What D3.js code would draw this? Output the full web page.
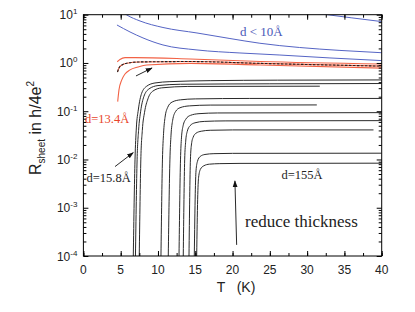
<!DOCTYPE html>
<html><head><meta charset="utf-8">
<script src="https://cdn.jsdelivr.net/npm/d3@7"></script>
<style>body{margin:0;background:#fff}svg{display:block}</style>
</head><body>
<svg id="c" width="415" height="312"></svg>
<script>
// ---- data (T in K, R_sheet in h/4e^2) ----
const xTickValues = [0,5,10,15,20,25,30,35,40];
const yTickExponents = [1,0,-1,-2,-3,-4];

const blue0 = [[29,11.6],[32.7,10],[36,8.6],[40,7.2]];
const blue1 = [[5.5,10.6],[5.82,9.86],[7.59,7.41],[10.67,5.43],[15.23,4.18],[19.65,3.21],[23.67,2.56],[29,2.09],[34.4,1.82],[40,1.63]];
const blue2 = [[4.5,6.12],[6.25,4.39],[7.99,3.30],[10.67,2.36],[15.23,1.86],[20.99,1.61],[26.35,1.46],[33.06,1.27],[40,1.12]];

const red1 = [[4.54,1.06],[4.9,1.18],[5.58,1.29],[6.92,1.29],[14.3,1.21],[23.7,1.07],[40,0.95]];
const red2 = [[4.57,0.65],[4.77,0.787],[5.17,0.91],[5.84,0.99],[7.59,1.05],[14.3,1.07],[23.7,0.98],[40,0.86]];
const red3 = [[4.6,0.158],[4.77,0.276],[5.13,0.44],[5.58,0.59],[6.25,0.72],[7.32,0.826],[8.49,0.91],[14.3,0.98],[23.7,0.91],[40,0.78]];

const black1 = [[6.69,1e-4],[6.92,0.0098],[7.1,0.045],[7.36,0.106],[7.81,0.235],[8.49,0.33],[9.6,0.385],[11.6,0.41],[17,0.43],[26,0.44],[40,0.445]];
const black2 = [[6.98,1e-4],[7.2,0.0098],[7.4,0.04],[7.68,0.1],[8.1,0.2],[8.8,0.29],[10,0.34],[13,0.362],[25,0.37],[40,0.375]];
const black3 = [[7.49,1e-4],[7.7,0.0098],[7.9,0.04],[8.2,0.095],[8.65,0.18],[9.3,0.26],[10.5,0.305],[14,0.326],[31.7,0.33]];
const black4 = [[10.4,1e-4],[10.6,0.0098],[10.75,0.035],[10.95,0.075],[11.3,0.12],[11.9,0.155],[13,0.172],[15,0.18],[22.3,0.184],[40,0.184]];
const black5 = [[11.38,1e-4],[11.6,0.0098],[11.75,0.032],[11.97,0.065],[12.35,0.098],[12.95,0.118],[14.2,0.129],[17,0.134],[31.3,0.135]];
const black6 = [[12.82,1e-4],[13.02,0.0098],[13.15,0.028],[13.37,0.05],[13.75,0.069],[14.35,0.082],[15.5,0.089],[18,0.092],[40,0.0935]];
const black7 = [[13.39,1e-4],[13.58,0.0098],[13.72,0.024],[13.92,0.038],[14.3,0.050],[14.95,0.0575],[16.2,0.0615],[19,0.063],[40,0.0638]];
const black8 = [[14.16,1e-4],[14.35,0.0098],[14.5,0.021],[14.72,0.029],[15.1,0.035],[15.8,0.0385],[17,0.0403],[20,0.041],[38.9,0.041]];
const black9 = [[14.87,1e-4],[15.0,0.002],[15.1,0.0058],[15.3,0.0092],[15.65,0.0115],[16.3,0.0127],[17.5,0.0132],[20,0.0134],[40,0.0135]];
const black10 = [[15.19,1e-4],[15.32,0.0015],[15.45,0.0043],[15.7,0.0063],[16.15,0.0074],[16.9,0.008],[18.3,0.0082],[21,0.0083],[40,0.00838]];

// annotation arrows: [from, to] in data coordinates
const arrows = [
  [[7.05,0.538],[9.2,0.787]],
  [[4.24,0.00713],[6.69,0.0139]],
  [[20.55,1.7e-4],[20.32,0.0036]]
];

// ---- drawing ----
const svg = d3.select("#c");
svg.append("rect").attr("width",415).attr("height",312).attr("fill","#fff");
const L=83.4, R=381.7, T=14.7, B=256;
const x = d3.scaleLinear().domain([0,40]).range([L,R]);
const y = d3.scaleLog().domain([1e-4,10]).range([B,T]);

const defs = svg.append("defs");
defs.append("clipPath").attr("id","clip").append("rect")
  .attr("x",L).attr("y",T).attr("width",R-L).attr("height",B-T);
defs.append("marker").attr("id","ah").attr("viewBox","0 0 10 10")
  .attr("refX",9).attr("refY",5).attr("markerWidth",7).attr("markerHeight",7)
  .attr("orient","auto").attr("markerUnits","userSpaceOnUse")
  .append("path").attr("d","M0,1.5 L10,5 L0,8.5 Z").attr("fill","#111");

const line = d3.line().x(d=>x(d[0])).y(d=>y(d[1])).curve(d3.curveMonotoneX);
const g = svg.append("g").attr("clip-path","url(#clip)");

const blueC="#5564c4", redC="#f26245";
[blue0,blue1,blue2].forEach(s=>g.append("path").attr("d",line(s)).attr("fill","none").attr("stroke",blueC).attr("stroke-width",1));
[red1,red2,red3].forEach(s=>g.append("path").attr("d",line(s)).attr("fill","none").attr("stroke",redC).attr("stroke-width",1.1));
g.append("path").attr("d",line(red2)).attr("fill","none").attr("stroke","#222").attr("stroke-width",1.1).attr("stroke-dasharray","2.5,1.5");
[black1,black2,black3,black4,black5,black6,black7,black8,black9,black10].forEach(s=>
  g.append("path").attr("d",line(s)).attr("fill","none").attr("stroke","#2a2a2a").attr("stroke-width",1));

arrows.forEach(a=>svg.append("line")
  .attr("x1",x(a[0][0])).attr("y1",y(a[0][1])).attr("x2",x(a[1][0])).attr("y2",y(a[1][1]))
  .attr("stroke","#111").attr("stroke-width",0.9).attr("marker-end","url(#ah)"));

// axes
const minorX = d3.range(0,40.01,2.5);
const minorY = [];
yTickExponents.slice(1).forEach(e=>{for(let m=2;m<=9;m++) minorY.push(m*Math.pow(10,e));});
const majorY = yTickExponents.map(e=>Math.pow(10,e));

function ax(gen, tr){ const a=svg.append("g").attr("transform",tr).call(gen); a.selectAll("text").remove(); a.select(".domain").remove(); a.selectAll("line").attr("stroke","#000"); }
ax(d3.axisBottom(x).tickValues(xTickValues).tickSize(-5),`translate(0,${B})`);
ax(d3.axisBottom(x).tickValues(minorX).tickSize(-3),`translate(0,${B})`);
ax(d3.axisTop(x).tickValues(xTickValues).tickSize(-5),`translate(0,${T})`);
ax(d3.axisTop(x).tickValues(minorX).tickSize(-3),`translate(0,${T})`);
ax(d3.axisLeft(y).tickValues(majorY).tickSize(-5),`translate(${L},0)`);
ax(d3.axisLeft(y).tickValues(minorY).tickSize(-3),`translate(${L},0)`);
ax(d3.axisRight(y).tickValues(majorY).tickSize(-5),`translate(${R},0)`);
ax(d3.axisRight(y).tickValues(minorY).tickSize(-3),`translate(${R},0)`);

svg.append("rect").attr("x",L).attr("y",T).attr("width",R-L).attr("height",B-T)
  .attr("fill","none").attr("stroke","#000").attr("stroke-width",1);

const sans="Liberation Sans, Arial, sans-serif", serif="Liberation Serif, Times New Roman, serif";
svg.selectAll(".xl").data(xTickValues).join("text")
  .attr("x",d=>x(d)).attr("y",B+18).attr("text-anchor","middle")
  .attr("font-family",sans).attr("font-size",12).attr("fill","#222").text(d=>d);
yTickExponents.forEach(e=>{
  const t=svg.append("text").attr("x",L-6).attr("y",y(Math.pow(10,e))+4.5).attr("text-anchor","end")
    .attr("font-family",sans).attr("font-size",12).attr("fill","#222");
  t.append("tspan").text("10");
  t.append("tspan").attr("dy",-5).attr("font-size",8).text(e);
});
svg.append("text").attr("x",236).attr("y",292).attr("text-anchor","middle")
  .attr("font-family",sans).attr("font-size",14).attr("fill","#222")
  .style("white-space","pre").text("T   (K)");
const yt=svg.append("text").attr("transform","translate(40.5,128) rotate(-90)").attr("text-anchor","middle")
  .attr("font-family",sans).attr("font-size",16).attr("fill","#222");
yt.append("tspan").text("R");
yt.append("tspan").attr("font-size",10).attr("dy",4).text("sheet");
yt.append("tspan").attr("dy",-4).text(" in h/4e");
yt.append("tspan").attr("font-size",10).attr("dy",-7).text("2");

svg.append("text").attr("x",240).attr("y",36).attr("font-family",serif).attr("font-size",13).attr("fill","#4a58b8").text("d < 10Å");
svg.append("text").attr("x",85).attr("y",123).attr("font-family",serif).attr("font-size",12.5).attr("fill","#e8452a").text("d=13.4Å");
svg.append("text").attr("x",86.5).attr("y",182).attr("font-family",serif).attr("font-size",12.5).attr("fill","#222").text("d=15.8Å");
svg.append("text").attr("x",281.5).attr("y",179).attr("font-family",serif).attr("font-size",12.5).attr("fill","#222").text("d=155Å");
svg.append("text").attr("x",245).attr("y",227).attr("font-family",serif).attr("font-size",17).attr("fill","#222").text("reduce thickness");
</script>
</body></html>
